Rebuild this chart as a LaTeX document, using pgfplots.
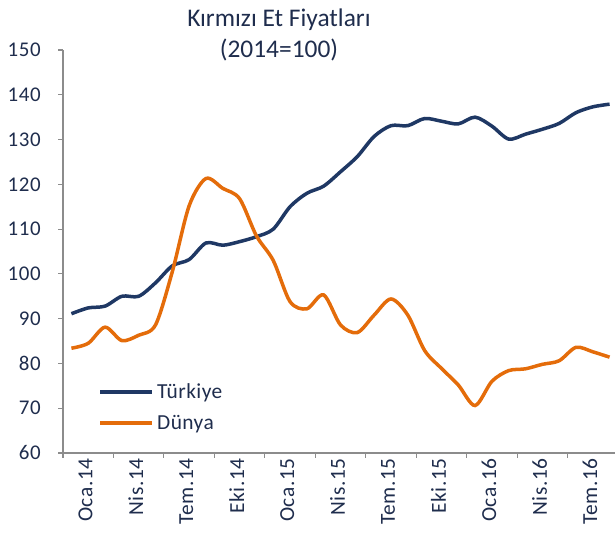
\documentclass[border=0pt]{standalone}
\usepackage{pgfplots}
\pgfplotsset{compat=1.18}
\usepackage{fontspec}
\setmainfont{Carlito}
\newfontfamily\tickfont[LetterSpace=3]{Carlito}
\newfontfamily\titlefont{Carlito}
\newfontfamily\legfont[LetterSpace=2]{Carlito}
\definecolor{navy}{HTML}{1F3864}
\definecolor{orng}{HTML}{E46C0A}
\definecolor{txt}{HTML}{1F2D4D}
\definecolor{axgray}{HTML}{8C8C8C}
\begin{document}
\begin{tikzpicture}[x=1bp,y=1bp]
\useasboundingbox (0,0) rectangle (615,543);
\node[font=\titlefont\fontsize{25.5}{32}\selectfont, text=txt, align=center] at (279,508) {Kırmızı Et Fiyatları\\(2014=100)};
\begin{axis}[
  at={(63bp,90bp)}, anchor=south west,
  scale only axis, width=555bp, height=403bp,
  xmin=-0.5, xmax=32.5, ymin=60, ymax=150,
  clip=false,
  axis x line*=bottom, axis y line*=left,
  axis line style={axgray, line width=1.1bp, -},
  ytick={60,70,...,150},
  xtick={0,3,...,30},
  xticklabels={Oca.14,Nis.14,Tem.14,Eki.14,Oca.15,Nis.15,Tem.15,Eki.15,Oca.16,Nis.16,Tem.16},
  minor xtick={-0.5,2.5,...,29.5},
  major x tick style={draw=none},
  minor x tick style={axgray, line width=1.1bp},
  y tick style={axgray, line width=1.1bp},
  tick align=outside,
  major tick length=5bp, minor tick length=5bp,
  xticklabel style={rotate=90, anchor=east, font=\tickfont\fontsize{21.5}{24}\selectfont, text=txt, inner sep=0pt, yshift=-14bp},
  yticklabel style={font=\tickfont\fontsize{21}{24}\selectfont, text=txt, inner sep=0pt, xshift=-17bp},
  /pgf/number format/assume math mode=true,
  legend style={draw=none, fill=none, at={(0.063,0.18)}, anchor=north west,
    font=\legfont\fontsize{21.5}{24}\selectfont, text=txt, row sep=9bp, inner sep=0pt,
    nodes={inner sep=3bp}},
  legend cell align=left,
  legend image code/.code={\draw[#1, line width=4bp] (0bp,0bp) -- (52bp,0bp);},
]
\addplot[navy, line width=3.5bp, smooth, tension=0.5] coordinates {
(0,91.1)(1,92.4)(2,92.8)(3,95.0)(4,95.0)(5,98.0)(6,101.8)(7,103.2)(8,106.9)(9,106.4)
(10,107.2)(11,108.3)(12,110.0)(13,115.0)(14,118.0)(15,119.6)(16,122.8)(17,126.2)(18,130.7)(19,133.1)
(20,133.1)(21,134.7)(22,134.1)(23,133.5)(24,135.0)(25,133.0)(26,130.1)(27,131.2)(28,132.3)(29,133.6)
(30,136.0)(31,137.3)(32,137.9)};
\addlegendentry{Türkiye}
\addplot[orng, line width=3.5bp, smooth, tension=0.5] coordinates {
(0,83.4)(1,84.5)(2,88.1)(3,85.1)(4,86.3)(5,88.6)(6,100.5)(7,115.2)(8,121.3)(9,119.1)
(10,116.8)(11,108.5)(12,103.0)(13,93.8)(14,92.2)(15,95.3)(16,88.6)(17,86.9)(18,90.8)(19,94.4)
(20,90.8)(21,82.9)(22,78.9)(23,75.2)(24,70.6)(25,76.0)(26,78.4)(27,78.8)(28,79.8)(29,80.6)
(30,83.6)(31,82.6)(32,81.4)};
\addlegendentry{Dünya}
\end{axis}
\end{tikzpicture}
\end{document}
